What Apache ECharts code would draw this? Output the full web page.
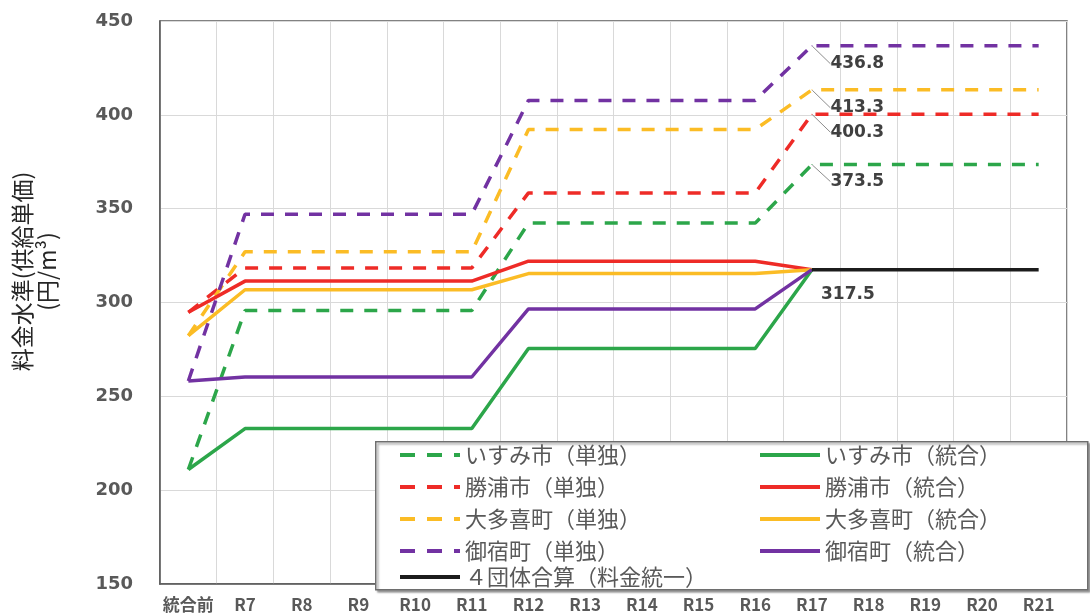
<!DOCTYPE html>
<html>
<head>
<meta charset="utf-8">
<script src="https://cdn.jsdelivr.net/npm/echarts@6/dist/echarts.min.js"></script>
<style>
html,body{margin:0;padding:0;background:#fff;}
#c{width:1090px;height:614px;}
</style>
</head>
<body>
<div id="c"></div>
<script>
const categories = ['統合前','R7','R8','R9','R10','R11','R12','R13','R14','R15','R16','R17','R18','R19','R20','R21'];
const yTicks = [150, 200, 250, 300, 350, 400, 450];

// 単独 (dashed)
const isumiSingle    = [211, 295.7, 295.7, 295.7, 295.7, 295.7, 342.3, 342.3, 342.3, 342.3, 342.3, 373.5, 373.5, 373.5, 373.5, 373.5];
const katsuuraSingle = [294.8, 318.4, 318.4, 318.4, 318.4, 318.4, 358.4, 358.4, 358.4, 358.4, 358.4, 400.3, 400.3, 400.3, 400.3, 400.3];
const otakiSingle    = [282.3, 327, 327, 327, 327, 327, 392.2, 392.2, 392.2, 392.2, 392.2, 413.3, 413.3, 413.3, 413.3, 413.3];
const onjukuSingle   = [258.2, 347, 347, 347, 347, 347, 407.7, 407.7, 407.7, 407.7, 407.7, 436.8, 436.8, 436.8, 436.8, 436.8];

// 統合 (solid)
const isumiUnified    = [211, 232.8, 232.8, 232.8, 232.8, 232.8, 275.5, 275.5, 275.5, 275.5, 275.5, 317.5, null, null, null, null];
const katsuuraUnified = [294.8, 311.4, 311.4, 311.4, 311.4, 311.4, 322, 322, 322, 322, 322, 317.5, null, null, null, null];
const otakiUnified    = [282.3, 306.8, 306.8, 306.8, 306.8, 306.8, 315.4, 315.4, 315.4, 315.4, 315.4, 317.5, null, null, null, null];
const onjukuUnified   = [258.2, 260.3, 260.3, 260.3, 260.3, 260.3, 296.6, 296.6, 296.6, 296.6, 296.6, 317.5, null, null, null, null];

// 4団体合算
const combined = [null, null, null, null, null, null, null, null, null, null, null, 317.5, 317.5, 317.5, 317.5, 317.5];

const labelIndex = 11; // R17

const C_GREEN = '#2ca64a', C_RED = '#ee2b27', C_YELLOW = '#fbbc25', C_PURPLE = '#7232a2', C_BLACK = '#1c1c1c';
const CJK = '"Noto Sans CJK JP", "Noto Sans", sans-serif';
const NUMFONT = '"DejaVu Sans", sans-serif';

function withLabel(arr, color) {
  return arr.map((v, i) => {
    if (i === labelIndex) {
      return { value: v, symbol: 'circle', symbolSize: 1, itemStyle: { color: color }, label: { show: true } };
    }
    return v;
  });
}

function dashed(name, data, color, dy) {
  return {
    name: name, type: 'line', data: withLabel(data, color), symbol: 'none', showSymbol: true,
    lineStyle: { color: color, width: 3.5, type: [13, 11] },
    itemStyle: { color: color },
    label: {
      show: false, position: 'right', distance: 4,
      fontSize: 17, fontWeight: 'bold', color: '#404040', fontFamily: NUMFONT
    },
    labelLayout: { dx: 14, dy: dy },
    labelLine: { show: true, lineStyle: { color: '#8c8c8c', width: 1 } },
    z: 2
  };
}
function solid(name, data, color) {
  return {
    name: name, type: 'line', data: data, symbol: 'none',
    lineStyle: { color: color, width: 3.5, type: 'solid' },
    itemStyle: { color: color }, z: 3
  };
}

const chart = echarts.init(document.getElementById('c'));
const legendText = { fontSize: 22, color: '#595959', fontFamily: CJK, lineHeight: 20 };
const legendBase = {
  orient: 'vertical', itemWidth: 60, itemHeight: 14, itemGap: 10, itemTextGap: 4, z: 20,
  textStyle: legendText, itemStyle: { opacity: 0, borderWidth: 0 }
};
const option = {
  animation: false,
  grid: { left: 160, right: 23, top: 21, bottom: 30, show: true, borderColor: '#595959', borderWidth: 1.5 },
  xAxis: {
    type: 'category', data: categories, boundaryGap: true,
    axisLine: { lineStyle: { color: '#595959', width: 1.5 } },
    axisTick: { show: false },
    axisLabel: { interval: 0, margin: 12, fontSize: 17, fontWeight: 'bold', color: '#595959',
      fontFamily: '"Liberation Sans Narrow", "Noto Sans CJK JP", sans-serif' },
    splitLine: { show: true, interval: 0, lineStyle: { color: '#d9d9d9', width: 1 } }
  },
  yAxis: {
    type: 'value', min: yTicks[0], max: yTicks[yTicks.length - 1], interval: 50,
    name: '料金水準(供給単価)\n(円/m³)', nameLocation: 'middle', nameGap: 100, nameRotate: 90,
    nameTextStyle: { fontSize: 23, color: '#262626', fontFamily: CJK, lineHeight: 25, padding: [0, 0, 0, 62] },
    axisLine: { show: true, lineStyle: { color: '#595959', width: 1.5 } },
    axisLabel: { margin: 27, fontSize: 18, fontWeight: 'bold', color: '#595959', fontFamily: NUMFONT },
    splitLine: { lineStyle: { color: '#d9d9d9', width: 1 } }
  },
  legend: [
    Object.assign({}, legendBase, {
      left: 393, top: 439, lineStyle: { type: [15, 12], width: 4 },
      data: ['いすみ市（単独）', '勝浦市（単独）', '大多喜町（単独）', '御宿町（単独）']
    }),
    Object.assign({}, legendBase, {
      left: 393, top: 561, itemTextGap: 7, lineStyle: { type: 'solid', width: 4 },
      data: ['４団体合算（料金統一）']
    }),
    Object.assign({}, legendBase, {
      left: 753, top: 439, lineStyle: { type: 'solid', width: 4 },
      data: ['いすみ市（統合）', '勝浦市（統合）', '大多喜町（統合）', '御宿町（統合）']
    })
  ],
  graphic: [{
    type: 'rect', left: 375, top: 441, z: 10, silent: true,
    shape: { width: 712, height: 148 },
    style: { fill: '#ffffff', stroke: '#6e6e6e', lineWidth: 1.5, shadowColor: 'rgba(0,0,0,0.35)', shadowOffsetX: 2, shadowOffsetY: 2, shadowBlur: 2 }
  }],
  series: [
    dashed('いすみ市（単独）', isumiSingle, C_GREEN, 17),
    dashed('勝浦市（単独）', katsuuraSingle, C_RED, 18),
    dashed('大多喜町（単独）', otakiSingle, C_YELLOW, 18),
    dashed('御宿町（単独）', onjukuSingle, C_PURPLE, 18),
    solid('いすみ市（統合）', isumiUnified, C_GREEN),
    solid('勝浦市（統合）', katsuuraUnified, C_RED),
    solid('大多喜町（統合）', otakiUnified, C_YELLOW),
    solid('御宿町（統合）', onjukuUnified, C_PURPLE),
    {
      name: '４団体合算（料金統一）', type: 'line', symbol: 'none', showSymbol: true,
      data: withLabel(combined, C_BLACK),
      lineStyle: { color: C_BLACK, width: 3.5 }, itemStyle: { color: C_BLACK },
      label: { show: false, position: 'bottom', distance: 5, offset: [36, 11],
        fontSize: 17, fontWeight: 'bold', color: '#404040', fontFamily: NUMFONT },
      z: 4
    }
  ]
};
chart.setOption(option);
</script>
</body>
</html>
